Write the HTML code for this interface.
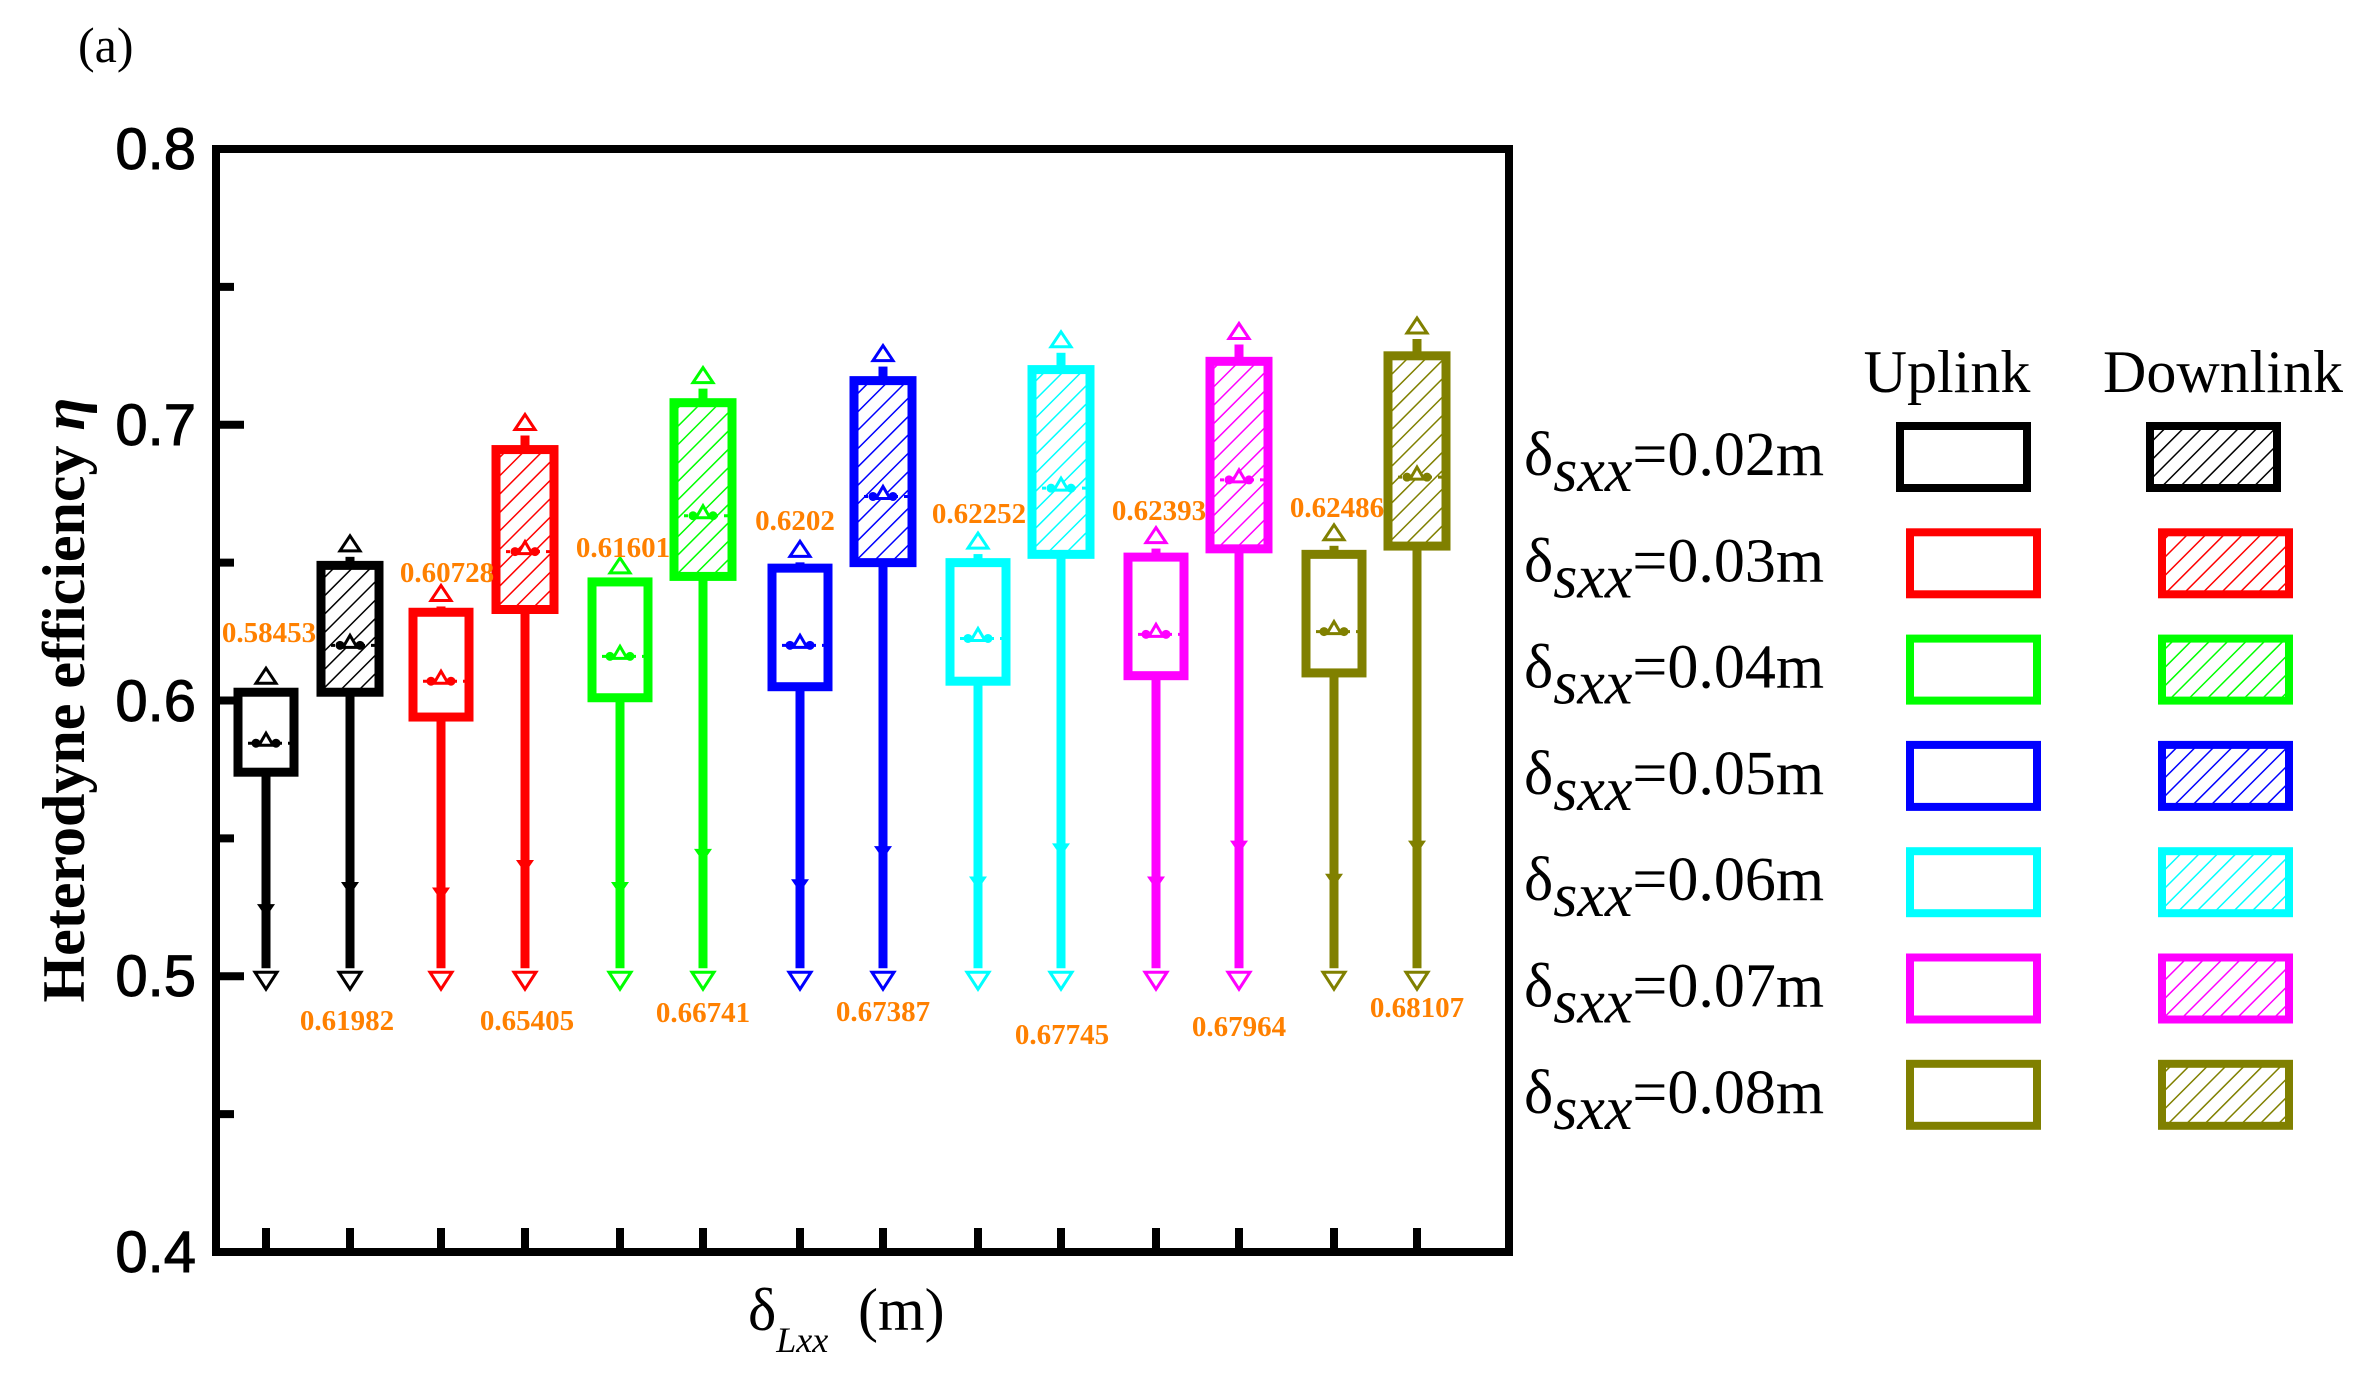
<!DOCTYPE html>
<html><head><meta charset="utf-8"><style>
html,body{margin:0;padding:0;background:#fff;}
svg{display:block;}
</style></head><body>
<svg id="s" width="2366" height="1379" viewBox="0 0 2366 1379" xmlns="http://www.w3.org/2000/svg">
<defs></defs>
<text x="78" y="62" font-family="Liberation Serif, serif" font-size="50">(a)</text>
<g id="plot"></g>
<rect x="216" y="149" width="1293" height="1103" fill="none" stroke="#000" stroke-width="8"/>
<g font-family="Liberation Sans, sans-serif" font-size="58" text-anchor="end" stroke="#000" stroke-width="1">
<text x="196" y="169">0.8</text>
<text x="196" y="445">0.7</text>
<text x="196" y="721">0.6</text>
<text x="196" y="996">0.5</text>
<text x="196" y="1272">0.4</text>
</g>
<text transform="translate(84,700) rotate(-90)" text-anchor="middle" font-family="Liberation Serif, serif" font-weight="bold" font-size="60">Heterodyne efficiency  <tspan font-style="italic">η</tspan></text>
<text x="748" y="1330" font-family="Liberation Serif, serif" font-size="60">δ<tspan font-style="italic" font-size="36" dy="22">Lxx</tspan><tspan dy="-22" x="858">(m)</tspan></text>
<g id="leg" font-family="Liberation Serif, serif"></g>
</svg>
<script>
var NS="http://www.w3.org/2000/svg",s=document.getElementById('s'),P=document.getElementById('plot'),L=document.getElementById('leg'),D=s.querySelector('defs');
function el(t,a,p,txt){var e=document.createElementNS(NS,t);for(var k in a)e.setAttribute(k,a[k]);if(txt!=null)e.textContent=txt;(p||P).appendChild(e);return e;}
function Y(v){return 149+(0.8-v)*2757.5;}
var cols=['#000000','#ff0000','#00ff00','#0000ff','#00ffff','#ff00ff','#808000'];
cols.forEach(function(c,i){var p=el('pattern',{id:'h'+i,patternUnits:'userSpaceOnUse',width:13,height:13,patternTransform:'rotate(45)'},D);
el('line',{x1:0,y1:0,x2:0,y2:13,stroke:c,'stroke-width':3},p);});
[0.8,0.7,0.6,0.5,0.4].forEach(function(v){el('line',{x1:216,x2:244,y1:Y(v),y2:Y(v),stroke:'#000','stroke-width':8});});
[0.75,0.65,0.55,0.45].forEach(function(v){el('line',{x1:216,x2:234,y1:Y(v),y2:Y(v),stroke:'#000','stroke-width':8});});
var xs=[266,350,441,525,620,703,800,883,978,1061,1156,1239,1334,1417];
xs.forEach(function(x){el('line',{x1:x,x2:x,y1:1252,y2:1228,stroke:'#000','stroke-width':8});});
var data=[
[0.574,0.603,0.607,0.5845,0.524],[0.603,0.649,0.655,0.620,0.532],
[0.594,0.632,0.637,0.607,0.530],[0.633,0.691,0.699,0.654,0.540],
[0.601,0.643,0.647,0.616,0.532],[0.645,0.708,0.716,0.667,0.544],
[0.605,0.648,0.653,0.620,0.533],[0.650,0.716,0.724,0.674,0.545],
[0.607,0.650,0.656,0.6225,0.534],[0.653,0.720,0.729,0.677,0.546],
[0.609,0.652,0.658,0.624,0.534],[0.655,0.723,0.732,0.680,0.547],
[0.610,0.653,0.659,0.625,0.535],[0.656,0.725,0.734,0.681,0.547]];
data.forEach(function(d,i){var c=cols[i>>1],x=xs[i],dn=i%2==1,w=dn?58:56;
 el('line',{x1:x,x2:x,y1:Y(0.5)-8,y2:Y(d[0]),stroke:c,'stroke-width':9});
 el('line',{x1:x,x2:x,y1:Y(d[1]),y2:Y(d[2])+8,stroke:c,'stroke-width':9});
 el('rect',{x:x-w/2,y:Y(d[1]),width:w,height:Y(d[0])-Y(d[1]),fill:dn?'url(#h'+(i>>1)+')':'#fff',stroke:c,'stroke-width':9});
 var ym=Y(d[3]);
 el('line',{x1:x-w/2,x2:x+w/2,y1:ym,y2:ym,stroke:c,'stroke-width':3,'stroke-dasharray':'4 6'});
 el('path',{d:'M'+(x-7)+' '+(ym+2)+'L'+x+' '+(ym-10)+'L'+(x+7)+' '+(ym+2)+'Z',fill:'#fff',stroke:c,'stroke-width':3});
 el('circle',{cx:x+10,cy:ym,r:4.5,fill:c});el('circle',{cx:x-10,cy:ym,r:4.5,fill:c});
 var ys=Y(d[4]);
 el('path',{d:'M'+(x-9)+' '+(ys-6)+'L'+(x+9)+' '+(ys-6)+'L'+x+' '+(ys+7)+'Z',fill:c});
 var yt=Y(d[2]);
 el('path',{d:'M'+(x-10)+' '+(yt+2)+'L'+x+' '+(yt-13)+'L'+(x+10)+' '+(yt+2)+'Z',fill:'#fff',stroke:c,'stroke-width':3});
 var yb=Y(0.5);
 el('path',{d:'M'+(x-11)+' '+(yb-4)+'L'+x+' '+(yb+13)+'L'+(x+11)+' '+(yb-4)+'Z',fill:'#fff',stroke:c,'stroke-width':3});
});
var labs=[['0.58453',269,642],['0.60728',447,582],['0.61601',623,557],['0.6202',795,530],['0.62252',979,523],['0.62393',1159,520],['0.62486',1337,517],
['0.61982',347,1030],['0.65405',527,1030],['0.66741',703,1022],['0.67387',883,1021],['0.67745',1062,1044],['0.67964',1239,1036],['0.68107',1417,1017]];
labs.forEach(function(l){el('text',{x:l[1],y:l[2],'text-anchor':'middle','font-family':'Liberation Serif, serif','font-weight':'bold','font-size':29,fill:'#ff8000'},null,l[0]);});
el('text',{x:1947,y:392,'text-anchor':'middle','font-size':60},L,'Uplink');
el('text',{x:2223,y:392,'text-anchor':'middle','font-size':60},L,'Downlink');
var vals=['0.02','0.03','0.04','0.05','0.06','0.07','0.08'];
vals.forEach(function(v,i){var cy=456+i*106.3,c=cols[i];
 var t=el('text',{x:1524,y:cy+19,'font-size':62},L);
 el('tspan',{},t,'δ');el('tspan',{'font-style':'italic',dy:16},t,'sxx');el('tspan',{dy:-16},t,'='+v+'m');
 var ux=i==0?1900:1910, dx=i==0?2150:2162;
 el('rect',{x:ux,y:cy-30,width:127,height:62,fill:'#fff',stroke:c,'stroke-width':8},L);
 el('rect',{x:dx,y:cy-30,width:127,height:62,fill:'url(#h'+i+')',stroke:c,'stroke-width':8},L);
});
</script>
</body></html>
